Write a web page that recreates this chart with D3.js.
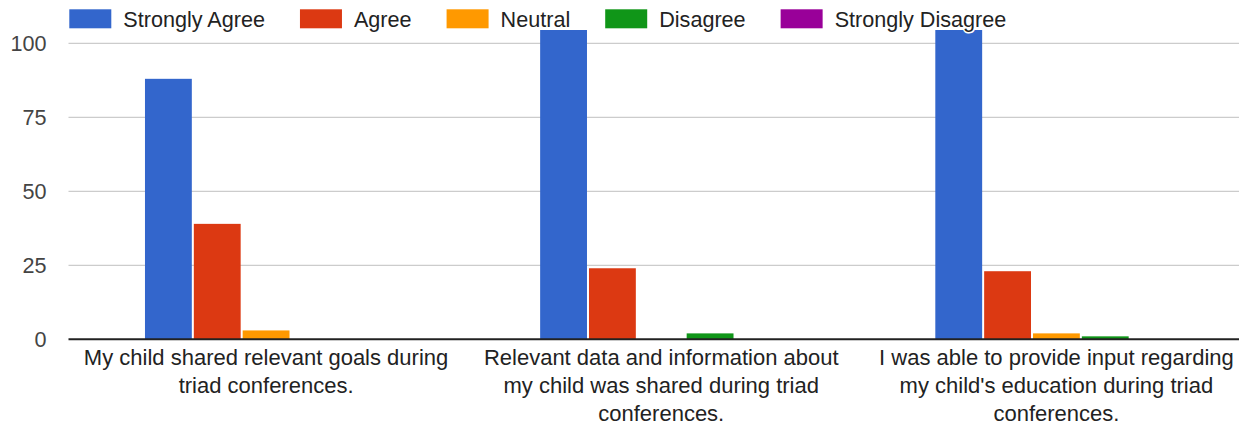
<!DOCTYPE html>
<html>
<head>
<meta charset="utf-8">
<script src="https://cdn.jsdelivr.net/npm/d3@7/dist/d3.min.js"></script>
<style>
  html, body { margin: 0; padding: 0; background: #fff; }
  svg { display: block; font-family: "Liberation Sans", Arial, sans-serif; }
</style>
</head>
<body>
<svg id="chart" width="1239" height="427"></svg>
<script>
// Survey questions (x categories)
const categories = [
  "My child shared relevant goals during triad conferences.",
  "Relevant data and information about my child was shared during triad conferences.",
  "I was able to provide input regarding my child's education during triad conferences."
];

// Response options (series) and their colours
const series = ["Strongly Agree", "Agree", "Neutral", "Disagree", "Strongly Disagree"];
const colors = ["#3366cc", "#dc3912", "#ff9900", "#109618", "#990099"];

// Response counts per question, one array per series
const stronglyAgree    = [88, 105, 105];
const agree            = [39, 24, 23];
const neutral          = [3, 0, 2];
const disagree         = [0, 2, 1];
const stronglyDisagree = [0, 0, 0];

// Y axis ticks
const yTicks = [0, 25, 50, 75, 100];

const seriesValues = [stronglyAgree, agree, neutral, disagree, stronglyDisagree];

const svg = d3.select("#chart");
const FONT = 21.6;
const LABEL_FONT = 22;

// Plot area
const plotLeft = 68.5, plotRight = 1254, plotTop = 30;
const y = d3.scaleLinear().domain([0, 100]).range([339.3, 43.3]);

const x0 = d3.scaleBand().domain(categories).range([plotLeft, plotRight]).padding(0);
const groupW = x0.bandwidth() * 0.618;
const x1 = d3.scaleBand().domain(series).range([0, groupW]).padding(0);

// Gridlines
svg.append("g")
  .selectAll("line")
  .data(yTicks.filter(d => d !== 0))
  .join("line")
  .attr("x1", plotLeft).attr("x2", 1239)
  .attr("y1", d => y(d)).attr("y2", d => y(d))
  .attr("stroke", "#cccccc").attr("stroke-width", 1.3);

// Y tick labels
svg.append("g")
  .selectAll("text")
  .data(yTicks)
  .join("text")
  .attr("x", 46.5)
  .attr("y", d => y(d))
  .attr("dy", "0.35em")
  .attr("text-anchor", "end")
  .attr("fill", "#444")
  .style("font-size", FONT + "px")
  .text(d => d);

// Clip bars to the plot area
svg.append("clipPath").attr("id", "plotClip")
  .append("rect")
  .attr("x", plotLeft).attr("y", plotTop)
  .attr("width", plotRight - plotLeft).attr("height", y(0) - plotTop);

const barData = [];
categories.forEach((c, ci) => {
  series.forEach((s, si) => {
    barData.push({ cat: c, ser: s, si, value: seriesValues[si][ci] });
  });
});

svg.append("g")
  .attr("clip-path", "url(#plotClip)")
  .selectAll("rect")
  .data(barData.filter(d => d.value > 0))
  .join("rect")
  .attr("x", d => x0(d.cat) + (x0.bandwidth() - groupW) / 2 + x1(d.ser) + 1)
  .attr("width", x1.bandwidth() - 2)
  .attr("y", d => y(d.value))
  .attr("height", d => y(0) - y(d.value))
  .attr("fill", d => colors[d.si]);

// Baseline
svg.append("line")
  .attr("x1", plotLeft).attr("x2", 1239)
  .attr("y1", y(0)).attr("y2", y(0))
  .attr("stroke", "#222").attr("stroke-width", 2);

// Category labels, wrapped into lines
function wrapLines(text, maxW) {
  const ctx = document.createElement("canvas").getContext("2d");
  ctx.font = LABEL_FONT + "px 'Liberation Sans', Arial, sans-serif";
  const words = text.split(" ");
  const lines = [];
  let cur = "";
  words.forEach(w => {
    const t = cur ? cur + " " + w : w;
    if (ctx.measureText(t).width > maxW && cur) { lines.push(cur); cur = w; }
    else cur = t;
  });
  if (cur) lines.push(cur);
  return lines;
}

const labels = svg.append("g");
categories.forEach(c => {
  const cx = x0(c) + x0.bandwidth() / 2;
  const lines = wrapLines(c, 380);
  const t = labels.append("text")
    .attr("text-anchor", "middle")
    .attr("fill", "#222")
    .style("font-size", LABEL_FONT + "px");
  lines.forEach((ln, i) => {
    t.append("tspan").attr("x", cx).attr("y", 365 + i * 28).text(ln);
  });
});

// Legend
const legend = svg.append("g");
let lx = 69.3;
series.forEach((s, i) => {
  legend.append("rect")
    .attr("x", lx).attr("y", 9.3)
    .attr("width", 42).attr("height", 19)
    .attr("fill", colors[i]);
  const t = legend.append("text")
    .attr("x", lx + 54).attr("y", 27.3)
    .attr("fill", "#222")
    .attr("stroke", "#fff").attr("stroke-width", 3)
    .attr("paint-order", "stroke")
    .style("font-size", FONT + "px")
    .text(s);
  lx += 54 + t.node().getComputedTextLength() + 35;
});
</script>
</body>
</html>
